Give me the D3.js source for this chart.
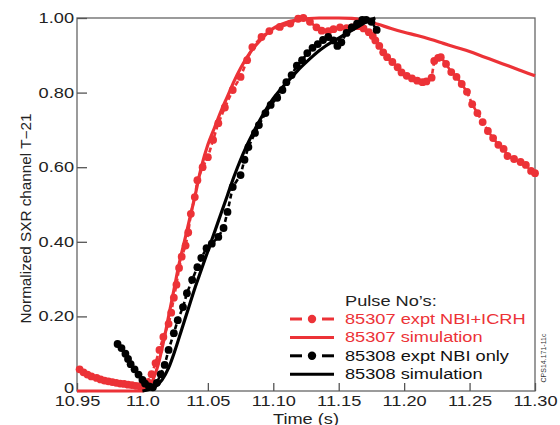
<!DOCTYPE html>
<html><head><meta charset="utf-8">
<script src="https://cdn.jsdelivr.net/npm/d3@7"></script>
<style>
html,body{margin:0;padding:0;background:#fff;}
svg{display:block;font-family:"Liberation Sans",Arial,Helvetica,sans-serif;}
</style></head>
<body>
<svg id="chart" width="560" height="425"></svg>
<script>
// ---- data ----
const xTickValues = [10.95, 11.0, 11.05, 11.10, 11.15, 11.20, 11.25, 11.30];
const xTickLabels = ["10.95", "11.0", "11.05", "11.10", "11.15", "11.20", "11.25", "11.30"];
const yTickValues = [0, 0.2, 0.4, 0.6, 0.8, 1.0];
const yTickLabels = ["0", "0.20", "0.40", "0.60", "0.80", "1.00"];

// 85307 expt NBI+ICRH
const redExptT = [10.952,10.955,10.958,10.961,10.965,10.968,10.971,10.974,10.977,10.980,10.983,10.986,10.989,10.992,10.995,10.998,11.001,11.004,11.007,11.010,11.013,11.016,11.020,11.022,11.024,11.026,11.028,11.030,11.033,11.035,11.037,11.040,11.042,11.046,11.050,11.054,11.058,11.063,11.069,11.075,11.080,11.084,11.091,11.097,11.105,11.113,11.119,11.123,11.128,11.133,11.137,11.142,11.146,11.151,11.156,11.160,11.165,11.169,11.173,11.176,11.178,11.181,11.184,11.187,11.191,11.195,11.198,11.202,11.206,11.210,11.214,11.217,11.221,11.223,11.226,11.228,11.232,11.236,11.240,11.244,11.248,11.252,11.256,11.260,11.264,11.268,11.272,11.276,11.279,11.284,11.289,11.293,11.297,11.300];
const redExptV = [0.058,0.050,0.044,0.039,0.035,0.031,0.028,0.026,0.024,0.022,0.020,0.019,0.017,0.016,0.014,0.013,0.013,0.024,0.045,0.075,0.11,0.145,0.18,0.21,0.25,0.285,0.33,0.36,0.39,0.425,0.475,0.52,0.565,0.60,0.627,0.673,0.718,0.76,0.807,0.842,0.887,0.922,0.949,0.965,0.976,0.985,0.998,1.0,0.99,0.975,0.966,0.965,0.97,0.975,0.973,0.975,0.978,0.972,0.962,0.952,0.94,0.925,0.908,0.895,0.882,0.868,0.854,0.845,0.838,0.832,0.828,0.83,0.84,0.885,0.893,0.895,0.877,0.855,0.842,0.823,0.802,0.769,0.745,0.721,0.697,0.678,0.66,0.649,0.63,0.622,0.614,0.606,0.59,0.584];

// 85307 simulation
const redSimT = [10.95,11.000,11.004,11.008,11.012,11.016,11.020,11.024,11.028,11.032,11.036,11.040,11.045,11.050,11.055,11.060,11.065,11.070,11.075,11.080,11.085,11.090,11.095,11.100,11.110,11.120,11.135,11.150,11.160,11.170,11.180,11.190,11.200,11.210,11.220,11.230,11.240,11.250,11.260,11.270,11.280,11.290,11.300];
const redSimV = [0,0,0.01,0.03,0.07,0.13,0.2,0.27,0.34,0.40,0.46,0.52,0.60,0.66,0.705,0.75,0.79,0.83,0.865,0.895,0.92,0.94,0.958,0.972,0.988,0.996,1.0,1.0,0.999,0.993,0.983,0.972,0.962,0.953,0.943,0.932,0.921,0.910,0.897,0.884,0.871,0.858,0.845];

// 85308 expt NBI only
const blackExptT = [10.981,10.984,10.987,10.989,10.991,10.994,10.997,11.000,11.002,11.005,11.008,11.011,11.014,11.017,11.020,11.024,11.027,11.031,11.034,11.038,11.042,11.045,11.049,11.053,11.058,11.062,11.065,11.069,11.075,11.078,11.081,11.086,11.089,11.094,11.098,11.103,11.107,11.110,11.114,11.118,11.122,11.126,11.130,11.134,11.138,11.142,11.146,11.149,11.152,11.156,11.160,11.164,11.168,11.171,11.175,11.179];
const blackExptV = [0.126,0.115,0.100,0.086,0.072,0.058,0.044,0.030,0.020,0.012,0.010,0.022,0.045,0.07,0.11,0.155,0.19,0.225,0.262,0.298,0.332,0.357,0.383,0.395,0.413,0.437,0.48,0.547,0.579,0.62,0.654,0.692,0.713,0.745,0.767,0.786,0.807,0.828,0.847,0.872,0.887,0.906,0.92,0.93,0.941,0.949,0.94,0.925,0.935,0.96,0.975,0.985,0.995,0.995,0.99,0.968];

// 85308 simulation
const blackSimT = [11.000,11.005,11.010,11.015,11.020,11.025,11.030,11.035,11.040,11.045,11.050,11.055,11.060,11.065,11.070,11.075,11.080,11.085,11.090,11.095,11.100,11.105,11.110,11.115,11.120,11.125,11.130,11.135,11.140,11.145,11.150,11.155,11.160,11.165,11.170,11.178];
const blackSimV = [0,0.004,0.012,0.03,0.062,0.11,0.165,0.22,0.275,0.325,0.375,0.425,0.475,0.525,0.575,0.62,0.66,0.695,0.728,0.758,0.784,0.806,0.826,0.845,0.864,0.881,0.897,0.912,0.925,0.936,0.946,0.957,0.967,0.977,0.988,1.0];

const legendLabels = ["85307 expt NBI+ICRH", "85307 simulation", "85308 expt NBI only", "85308 simulation"];
const legendTitle = "Pulse No\u2019s:";
const xTitle = "Time (s)";
const yTitle = "Normalized SXR channel T\u221221";
const codeLabel = "CPS14.171-11c";

// ---- drawing ----
const RED = "#ec3237", BLACK = "#000";
const svg = d3.select("#chart");
const x = d3.scaleLinear().domain([10.95, 11.30]).range([77, 535]);
const y = d3.scaleLinear().domain([0, 1]).range([391, 18]);
const STRETCH = 1.3;
function stretch(sel, f) {
  sel.each(function () {
    const L = this.getComputedTextLength();
    this.setAttribute("textLength", L * f);
    this.setAttribute("lengthAdjust", "spacingAndGlyphs");
  });
}

// frame
svg.append("rect").attr("x", x(10.95)).attr("y", y(1)).attr("width", x(11.30) - x(10.95)).attr("height", y(0) - y(1))
  .attr("fill", "none").attr("stroke", "#666").attr("stroke-width", 1.3);

const gx = svg.append("g").attr("transform", `translate(0,${y(0)})`)
  .call(d3.axisBottom(x).tickValues(xTickValues).tickFormat((d, i) => xTickLabels[i]).tickSizeInner(-8).tickSizeOuter(0).tickPadding(5));
const gy = svg.append("g").attr("transform", `translate(${x(10.95)},0)`)
  .call(d3.axisLeft(y).tickValues(yTickValues).tickFormat((d, i) => yTickLabels[i]).tickSizeInner(-10).tickSizeOuter(0).tickPadding(3));
[gx, gy].forEach(g => {
  g.select(".domain").remove();
  g.selectAll(".tick line").attr("stroke", "#555").attr("stroke-width", 1.3);
  g.selectAll(".tick text").attr("font-size", 14).attr("fill", "#222").attr("font-family", null);
  g.attr("font-family", null).attr("font-size", null);
});
// lift the "0" label slightly above the axis line, as in the reference
gy.selectAll(".tick text").filter(d => d === 0).attr("dy", "0.1em");
stretch(gx.selectAll(".tick text"), STRETCH);
stretch(gy.selectAll(".tick text"), STRETCH);

// axis titles
const xt = svg.append("text").attr("x", (x(10.95) + x(11.30)) / 2).attr("y", 424).attr("text-anchor", "middle")
  .attr("font-size", 14).attr("fill", "#222").text(xTitle);
stretch(xt, STRETCH);
const yt = svg.append("text").attr("transform", `translate(31,${(y(0)+y(1))/2 + 14}) rotate(-90)`).attr("text-anchor", "middle")
  .attr("font-size", 14).attr("fill", "#222").text(yTitle);
yt.attr("textLength", 210).attr("lengthAdjust", "spacingAndGlyphs");

// code label
svg.append("text").attr("transform", `translate(546,358) rotate(-90)`).attr("text-anchor", "middle")
  .attr("font-size", 7).attr("fill", "#333").text(codeLabel);

// series
const simLine = d3.line().x(d => x(d[0])).y(d => y(d[1])).curve(d3.curveMonotoneX);
const expLine = d3.line().x(d => x(d[0])).y(d => y(d[1]));
function zip(a, b) { return a.map((t, i) => [t, b[i]]); }

function drawSim(T, V, color) {
  svg.append("path").datum(zip(T, V)).attr("d", simLine).attr("fill", "none")
    .attr("stroke", color).attr("stroke-width", 3.2).attr("stroke-linejoin", "round");
}
function drawExpt(T, V, color) {
  const data = zip(T, V);
  svg.append("path").datum(data).attr("d", expLine).attr("fill", "none")
    .attr("stroke", color).attr("stroke-width", 2.6).attr("stroke-dasharray", "5,3");
  svg.append("g").selectAll("circle").data(data).join("circle")
    .attr("cx", d => x(d[0])).attr("cy", d => y(d[1])).attr("r", 3.9).attr("fill", color);
}
drawSim(redSimT, redSimV, RED);
drawExpt(redExptT, redExptV, RED);
drawSim(blackSimT, blackSimV, BLACK);
drawExpt(blackExptT, blackExptV, BLACK);

// legend
const lg = svg.append("g");
const t0 = lg.append("text").attr("x", 345).attr("y", 306).attr("font-size", 14).attr("fill", "#222").text(legendTitle);
stretch(t0, STRETCH);
const rows = [
  { label: legendLabels[0], color: RED, dotted: true },
  { label: legendLabels[1], color: RED, dotted: false },
  { label: legendLabels[2], color: BLACK, dotted: true },
  { label: legendLabels[3], color: BLACK, dotted: false }
];
rows.forEach((r, i) => {
  const cy = 319 + i * 18.4;
  if (r.dotted) {
    lg.append("line").attr("x1", 290).attr("x2", 302).attr("y1", cy).attr("y2", cy).attr("stroke", r.color).attr("stroke-width", 3);
    lg.append("line").attr("x1", 322).attr("x2", 334).attr("y1", cy).attr("y2", cy).attr("stroke", r.color).attr("stroke-width", 3);
    lg.append("circle").attr("cx", 312).attr("cy", cy).attr("r", 4.2).attr("fill", r.color);
  } else {
    lg.append("line").attr("x1", 290).attr("x2", 334).attr("y1", cy).attr("y2", cy).attr("stroke", r.color).attr("stroke-width", 3);
  }
  const t = lg.append("text").attr("x", 345).attr("y", cy + 5).attr("font-size", 14)
    .attr("fill", r.color === RED ? RED : "#111").text(r.label);
  stretch(t, STRETCH);
});
</script>
</body></html>
